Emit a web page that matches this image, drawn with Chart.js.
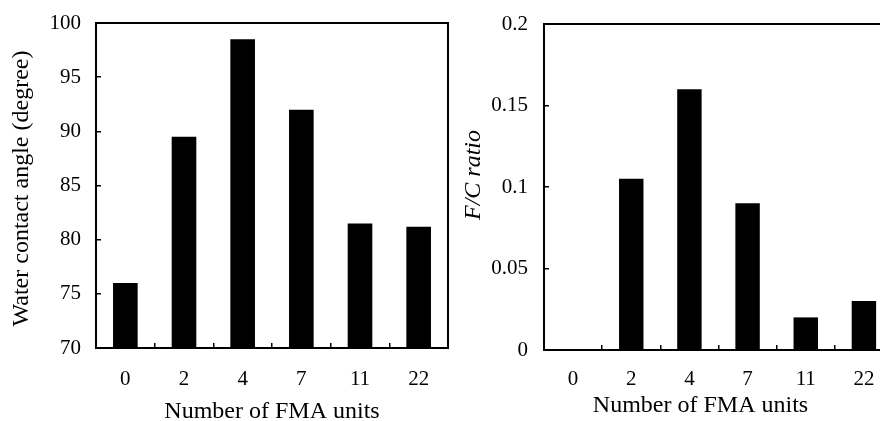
<!DOCTYPE html>
<html>
<head>
<meta charset="utf-8">
<script src="https://cdn.jsdelivr.net/npm/chart.js@4"></script>
<style>
  html, body { margin: 0; padding: 0; background: #fff; overflow: hidden; width: 880px; height: 421px; }
  .panel { position: absolute; top: 0; }
  #p1 { left: 0; }
  #p2 { left: 440px; }
</style>
</head>
<body>
<div class="panel" id="p1"><canvas id="c1" width="470" height="430"></canvas></div>
<div class="panel" id="p2"><canvas id="c2" width="470" height="430"></canvas></div>
<script>
// ---- data ----
const categories = ['0', '2', '4', '7', '11', '22'];
const contactAngle = [76.0, 89.5, 98.5, 92.0, 81.5, 81.2];
const fcRatio = [0, 0.105, 0.16, 0.09, 0.02, 0.03];
const leftTickLabels = ['70', '75', '80', '85', '90', '95', '100'];
const rightTickLabels = ['0', '0.05', '0.1', '0.15', '0.2'];
const xTitle = 'Number of FMA units';
const leftYTitle = 'Water contact angle (degree)';
const rightYTitle = 'F/C ratio';

const FONT = "'Liberation Serif', 'Times New Roman', serif";

const framePlugin = {
  id: 'frame',
  afterDatasetsDraw(chart) {
    const a = chart.chartArea, ctx = chart.ctx;
    ctx.save();
    ctx.strokeStyle = '#000';
    ctx.lineWidth = 2;
    ctx.strokeRect(a.left, a.top, a.right - a.left, a.bottom - a.top);
    ctx.restore();
  }
};

function makeChart(id, opts) {
  return new Chart(document.getElementById(id), {
    type: 'bar',
    data: {
      labels: categories,
      datasets: [{
        data: opts.values,
        backgroundColor: '#000',
        borderWidth: 0,
        barPercentage: 0.42,
        categoryPercentage: 1.0
      }]
    },
    plugins: [framePlugin],
    options: {
      responsive: false,
      animation: false,
      devicePixelRatio: 1,
      layout: { padding: opts.padding },
      plugins: { legend: { display: false }, tooltip: { enabled: false } },
      scales: {
        x: {
          offset: true,
          grid: { display: true, drawOnChartArea: false, offset: true, color: '#000', lineWidth: 1.5, tickLength: -5 },
          border: { display: true, color: '#000', width: 2 },
          ticks: { color: '#000', font: { family: FONT, size: 21 }, padding: opts.xPad, maxRotation: 0 },
          title: { display: true, text: opts.xTitleText, color: '#000', font: { family: FONT, size: 24 }, padding: 0 },
          afterFit(s) { s.height = opts.xHeight; s.paddingLeft = 0; s.paddingRight = 0; }
        },
        y: {
          min: opts.min, max: opts.max,
          ticks: {
            stepSize: opts.step, color: '#000', font: { family: FONT, size: 21 }, padding: opts.yPad,
            callback: (v, i) => opts.tickLabels[i]
          },
          grid: { display: true, drawOnChartArea: false, color: '#000', lineWidth: 1.5, tickLength: -5 },
          border: { display: true, color: '#000', width: 2 },
          title: { display: true, text: opts.yTitleText, color: '#000', font: { family: FONT, size: 24, style: opts.yItalic ? 'italic' : 'normal' }, padding: 0 },
          afterFit(s) { s.width = opts.yWidth; s.paddingTop = 0; s.paddingBottom = 0; }
        }
      }
    }
  });
}

makeChart('c1', {
  values: contactAngle, min: 70, max: 100, step: 5, tickLabels: leftTickLabels,
  padding: { left: 7, right: 22, top: 23, bottom: 4 },
  yWidth: 89, xHeight: 78, xPad: 24, yPad: 20,
  xTitleText: xTitle, yTitleText: leftYTitle + ' ', yItalic: false
});

makeChart('c2', {
  values: fcRatio, min: 0, max: 0.2, step: 0.05, tickLabels: rightTickLabels,
  padding: { left: 19, right: 17, top: 24, bottom: 10 },
  yWidth: 85, xHeight: 70, xPad: 22, yPad: 21,
  xTitleText: xTitle + '      ', yTitleText: '    ' + rightYTitle, yItalic: true
});
</script>
</body>
</html>
